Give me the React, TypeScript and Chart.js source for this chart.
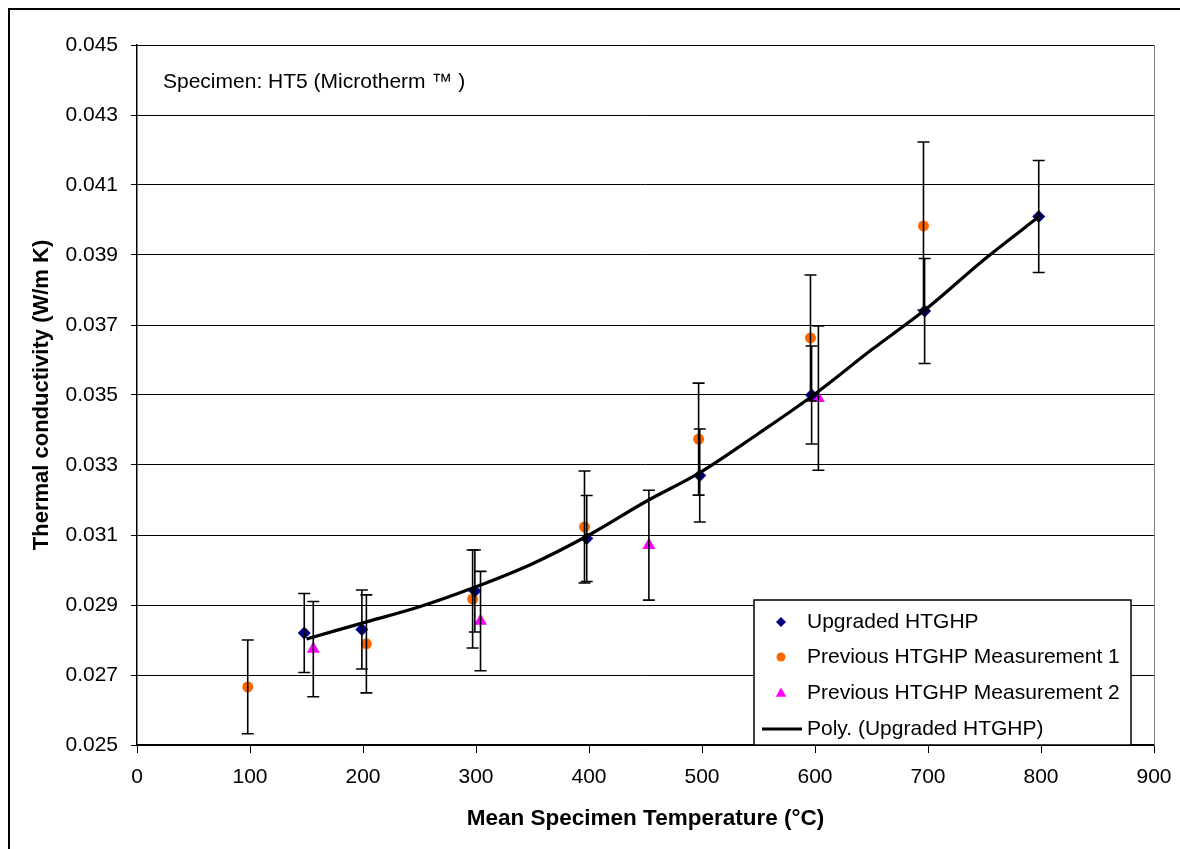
import React, { useEffect, useRef } from "react";
import { Chart, registerables } from "chart.js";

Chart.register(...registerables);

// ---- data ----
const upgradedX = [148, 199, 299, 398, 498, 597, 697, 798];
const upgradedY = [0.0282, 0.0283, 0.0294, 0.0309, 0.0327, 0.035, 0.0374, 0.0401];
const upgradedErr = [0.00113, 0.00113, 0.00117, 0.00123, 0.00133, 0.0014, 0.0015, 0.0016];

const prev1X = [98, 203, 297, 396, 497, 596, 696];
const prev1Y = [0.02666, 0.02789, 0.02917, 0.03123, 0.03374, 0.03663, 0.03983];
const prev1Err = [0.00134, 0.0014, 0.0014, 0.0016, 0.0016, 0.0018, 0.0024];

const prev2X = [156, 304, 453, 603];
const prev2Y = [0.02774, 0.02854, 0.03071, 0.03491];
const prev2Err = [0.00136, 0.00142, 0.00157, 0.00206];

const polyX = [150, 200, 250, 300, 350, 400, 450, 500, 550, 600, 650, 700, 750, 800];
const polyY = [0.02803, 0.02849, 0.02895, 0.02952, 0.03018, 0.031, 0.03195, 0.03282, 0.0339, 0.03503, 0.03629, 0.0375, 0.03888, 0.04014];

const xTicks = [0, 100, 200, 300, 400, 500, 600, 700, 800, 900];
const yTicks = [0.025, 0.027, 0.029, 0.031, 0.033, 0.035, 0.037, 0.039, 0.041, 0.043, 0.045];

const seriesNames = [
  "Upgraded HTGHP",
  "Previous HTGHP Measurement 1",
  "Previous HTGHP Measurement 2",
  "Poly. (Upgraded HTGHP)",
];
const specimenLabel = "Specimen: HT5 (Microtherm \u2122 )";
const xTitle = "Mean Specimen Temperature (\u00b0C)";
const yTitle = "Thermal conductivity (W/m K)";

const NAVY = "#000080";
const ORANGE = "#FF6600";
const MAGENTA = "#FF00FF";
const FONT = "'Liberation Sans', Arial, sans-serif";

const zip = (xs: number[], ys: number[]) => xs.map((x, i) => ({ x, y: ys[i] }));

function drawMarker(ctx: CanvasRenderingContext2D, kind: string, x: number, y: number, r: number, color: string) {
  ctx.save();
  ctx.fillStyle = color;
  ctx.beginPath();
  if (kind === "diamond") {
    ctx.moveTo(x, y - r);
    ctx.lineTo(x + r, y);
    ctx.lineTo(x, y + r);
    ctx.lineTo(x - r, y);
    ctx.closePath();
  } else if (kind === "circle") {
    ctx.arc(x, y, r, 0, Math.PI * 2);
  } else {
    ctx.moveTo(x, y - r);
    ctx.lineTo(x + r * 0.95, y + r * 0.7);
    ctx.lineTo(x - r * 0.95, y + r * 0.7);
    ctx.closePath();
  }
  ctx.fill();
  ctx.restore();
}

const errorBarsPlugin = {
  id: "errorBars",
  afterDatasetsDraw(chart: any) {
    const { ctx } = chart;
    const xs = chart.scales.x;
    const ys = chart.scales.y;
    ctx.save();
    ctx.strokeStyle = "#000";
    ctx.lineWidth = 1.6;
    chart.data.datasets.forEach((ds: any) => {
      if (!ds.errors) return;
      ds.data.forEach((p: any, i: number) => {
        const px = xs.getPixelForValue(p.x);
        const top = ys.getPixelForValue(p.y + ds.errors[i]);
        const bot = ys.getPixelForValue(p.y - ds.errors[i]);
        ctx.beginPath();
        ctx.moveTo(px, top);
        ctx.lineTo(px, bot);
        ctx.moveTo(px - 6, top);
        ctx.lineTo(px + 6, top);
        ctx.moveTo(px - 6, bot);
        ctx.lineTo(px + 6, bot);
        ctx.stroke();
      });
    });
    ctx.restore();
  },
};

const decorPlugin = {
  id: "decor",
  afterDraw(chart: any) {
    const { ctx, chartArea: a } = chart;
    ctx.save();
    // right border of plot area
    ctx.strokeStyle = "#808080";
    ctx.lineWidth = 1;
    ctx.beginPath();
    ctx.moveTo(a.right + 0.5, a.top);
    ctx.lineTo(a.right + 0.5, a.bottom);
    ctx.stroke();

    // specimen label
    ctx.fillStyle = "#000";
    ctx.font = `21px ${FONT}`;
    ctx.textBaseline = "middle";
    ctx.textAlign = "left";
    ctx.fillText(specimenLabel, a.left + 26, a.top + 37);

    // legend
    const bx = a.right - 400;
    const by = a.bottom - 145;
    const bw = 377;
    const bh = 145;
    ctx.fillStyle = "#fff";
    ctx.fillRect(bx, by, bw, bh);
    ctx.strokeStyle = "#000";
    ctx.lineWidth = 1.5;
    ctx.strokeRect(bx, by, bw, bh);
    const rows = [22, 57, 93, 129];
    const mx = bx + 27;
    drawMarker(ctx, "diamond", mx, by + rows[0], 5, NAVY);
    drawMarker(ctx, "circle", mx, by + rows[1], 4.5, ORANGE);
    drawMarker(ctx, "triangle", mx, by + rows[2], 5.5, MAGENTA);
    ctx.strokeStyle = "#000";
    ctx.lineWidth = 3;
    ctx.beginPath();
    ctx.moveTo(bx + 8, by + rows[3]);
    ctx.lineTo(bx + 48, by + rows[3]);
    ctx.stroke();
    ctx.fillStyle = "#000";
    ctx.font = `21px ${FONT}`;
    ctx.textBaseline = "middle";
    seriesNames.forEach((n, i) => ctx.fillText(n, bx + 53, by + rows[i]));
    ctx.restore();
  },
};

export default function App() {
  const ref = useRef<HTMLCanvasElement | null>(null);
  useEffect(() => {
    if (!ref.current) return;
    const chart = new Chart(ref.current, {
      type: "scatter",
      data: {
        datasets: [
          {
            type: "line",
            label: seriesNames[3],
            data: zip(polyX, polyY),
            borderColor: "#000",
            borderWidth: 3.2,
            pointRadius: 0,
            showLine: true,
            fill: false,
            cubicInterpolationMode: "monotone",
          } as any,
          {
            label: seriesNames[0],
            data: zip(upgradedX, upgradedY),
            errors: upgradedErr,
            pointStyle: "rectRot",
            pointRadius: 6.5,
            backgroundColor: NAVY,
            borderColor: NAVY,
            borderWidth: 0,
          } as any,
          {
            label: seriesNames[1],
            data: zip(prev1X, prev1Y),
            errors: prev1Err,
            pointStyle: "circle",
            pointRadius: 5.5,
            backgroundColor: ORANGE,
            borderColor: ORANGE,
            borderWidth: 0,
          } as any,
          {
            label: seriesNames[2],
            data: zip(prev2X, prev2Y),
            errors: prev2Err,
            pointStyle: "triangle",
            pointRadius: 7.5,
            backgroundColor: MAGENTA,
            borderColor: MAGENTA,
            borderWidth: 0,
          } as any,
        ],
      },
      options: {
        animation: false,
        responsive: false,
        maintainAspectRatio: false,
        layout: { padding: { top: 35, right: 26, left: 0, bottom: 0 } },
        plugins: { legend: { display: false }, tooltip: { enabled: false } },
        scales: {
          x: {
            type: "linear",
            min: 0,
            max: 900,
            afterBuildTicks: (s: any) => {
              s.ticks = xTicks.map((v) => ({ value: v }));
            },
            afterFit: (s: any) => {
              s.height = 104;
              s.paddingRight = 0;
              s.paddingLeft = 0;
            },
            ticks: {
              color: "#000",
              font: { family: FONT, size: 21 },
              padding: 12,
              maxRotation: 0,
              autoSkip: false,
            },
            grid: { drawOnChartArea: false, drawTicks: true, tickLength: 8, color: "#000", lineWidth: 1 },
            border: { color: "#000", width: 1.5 },
            title: {
              display: true,
              text: xTitle,
              color: "#000",
              font: { family: FONT, size: 22.5, weight: "bold" },
              padding: { top: 0, bottom: 17 },
            },
          },
          y: {
            type: "linear",
            min: 0.025,
            max: 0.045,
            afterBuildTicks: (s: any) => {
              s.ticks = yTicks.map((v) => ({ value: v }));
            },
            afterFit: (s: any) => {
              s.width = 127;
              s.paddingTop = 0;
              s.paddingBottom = 0;
            },
            ticks: {
              color: "#000",
              font: { family: FONT, size: 21 },
              padding: 13,
              autoSkip: false,
              callback: (v: any) => Number(v).toFixed(3),
            },
            grid: { color: "#000", lineWidth: 1, drawTicks: true, tickLength: 6 },
            border: { color: "#000", width: 1.5 },
            title: {
              display: true,
              text: yTitle,
              color: "#000",
              font: { family: FONT, size: 22, weight: "bold" },
              padding: { top: 19, bottom: 0 },
            },
          },
        },
      } as any,
      plugins: [errorBarsPlugin, decorPlugin],
    });
    return () => chart.destroy();
  }, []);

  return (
    <div
      style={{
        position: "fixed",
        left: 8,
        top: 8,
        width: 1172,
        height: 841,
        borderTop: "2px solid #000",
        borderLeft: "2px solid #000",
        background: "#fff",
        overflow: "hidden",
      }}
    >
      <canvas ref={ref} width={1170} height={839} style={{ display: "block" }} />
    </div>
  );
}
